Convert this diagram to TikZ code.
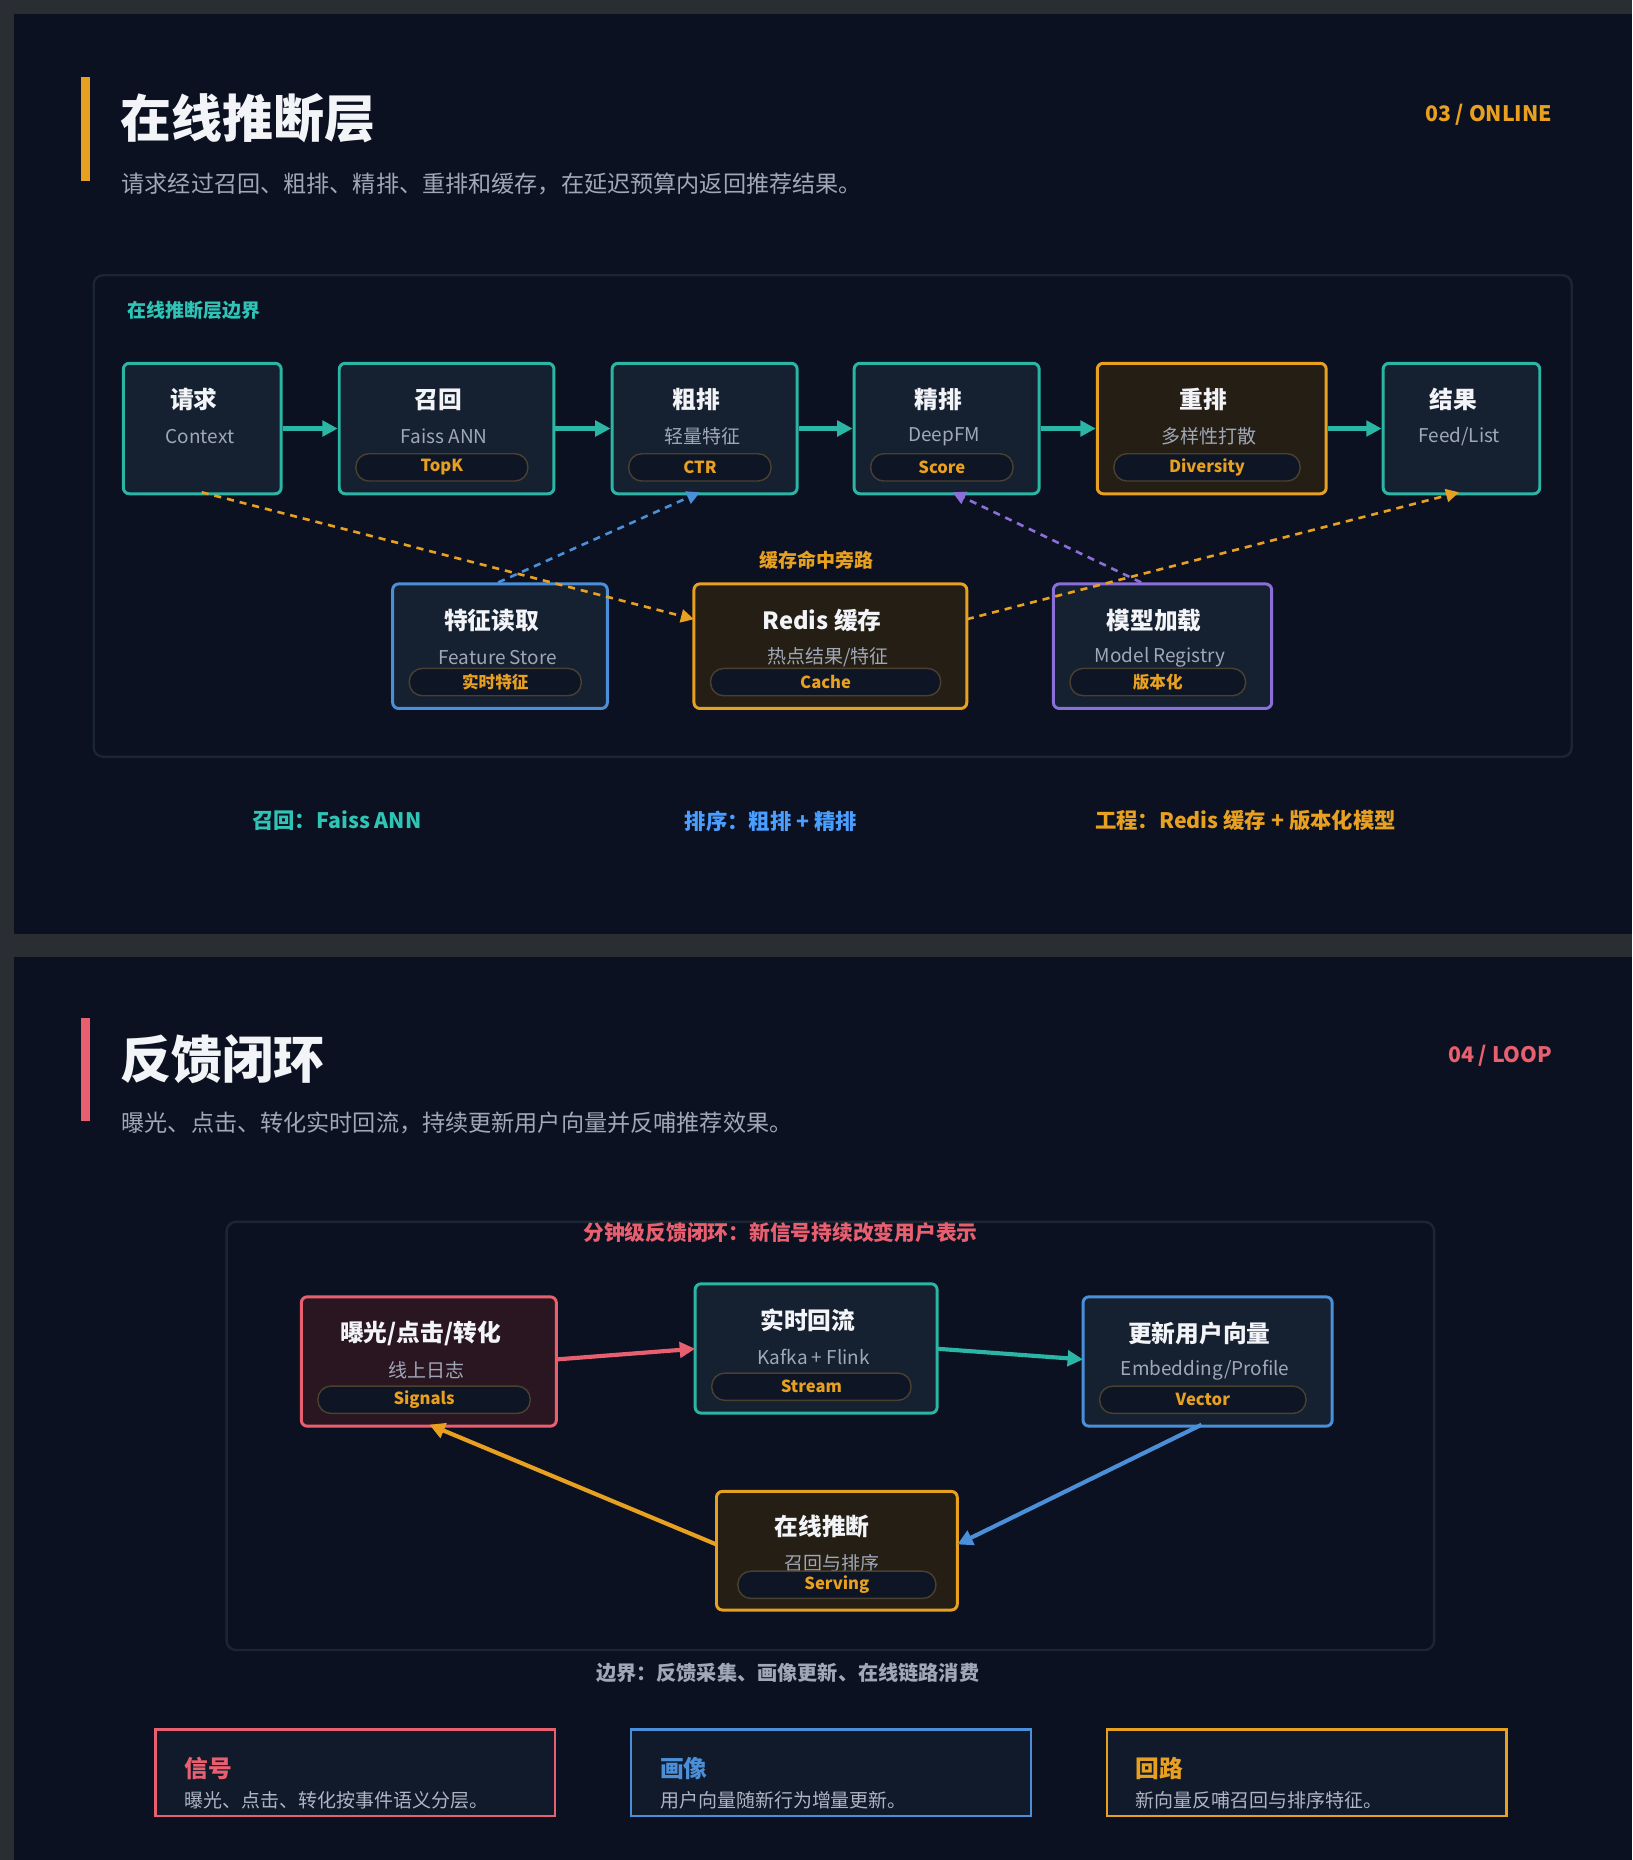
\documentclass[tikz,border=0pt]{standalone}
\usepackage{fontspec}
\setmainfont{Noto Sans CJK SC}
\usetikzlibrary{arrows.meta}
\definecolor{bgout}{HTML}{2A2D32}
\definecolor{bg}{HTML}{0B1120}
\definecolor{nfill}{HTML}{152030}
\definecolor{teal}{HTML}{2BB5A5}
\definecolor{tealtx}{HTML}{2EC4B6}
\definecolor{org}{HTML}{E8A020}
\definecolor{orgfill}{HTML}{241E14}
\definecolor{blu}{HTML}{4A8FD8}
\definecolor{blutx}{HTML}{4A9EFF}
\definecolor{pur}{HTML}{8A6FD8}
\definecolor{red}{HTML}{E86070}
\definecolor{redfill}{HTML}{2A1620}
\definecolor{gtx}{HTML}{A0A8B8}
\definecolor{wtx}{HTML}{F2F4F8}
\definecolor{bnd}{HTML}{1C2633}
\definecolor{pillb}{HTML}{4A4030}
\tikzset{
 x=1pt,y=-1pt,
 box/.style={draw,line width=2.5pt,rounded corners=5pt,inner sep=0pt},
 tealbox/.style={box,draw=teal,fill=nfill},
 orgbox/.style={box,draw=org,fill=orgfill},
 blubox/.style={box,draw=blu,fill=nfill},
 purbox/.style={box,draw=pur,fill=nfill},
 redbox/.style={box,draw=red,fill=redfill},
 ttl/.style={text=wtx,font=\fontsize{20}{22}\selectfont\bfseries},
 sub/.style={text=gtx,font=\fontsize{16}{17}\selectfont},
 pill/.style={draw=pillb,line width=1.2pt,rounded corners=11pt,fill=bg!70!nfill,text=org,font=\fontsize{14}{15}\selectfont\bfseries,inner sep=0pt,minimum height=23pt},
 arr/.style={line width=3.5pt,-{Triangle[length=13pt,width=13pt]}},
 darr/.style={line width=2.2pt,dash pattern=on 6pt off 5pt,-{Triangle[length=11pt,width=11pt]}},
}
\newcommand\bx[9]{%
 \node[#6,minimum width=#4pt,minimum height=#5pt,anchor=north] (#1) at (#2,#3) {};
 \node[ttl] (#1t) at (#2-7,#3+32) {#7};
 \node[sub] (#1s) at (#2-2,#3+63) {#8};
 \node[pill,minimum width=#4pt-36pt] (#1p) at (#2-4,#3+#5-21) {#9};
}
\newcommand\bxn[8]{%
 \node[#6,minimum width=#4pt,minimum height=#5pt,anchor=north] (#1) at (#2,#3) {};
 \node[ttl] (#1t) at (#2-7,#3+32) {#7};
 \node[sub] (#1s) at (#2-2,#3+63) {#8};
}
\begin{document}
\begin{tikzpicture}
\useasboundingbox (0,0) rectangle (1376,1568);
\fill[bgout] (0,0) rectangle (1376,1568);
\fill[bg] (12,12) rectangle (1376,787);
\fill[bg] (12,807) rectangle (1376,1568);
% ---------- panel 1
\fill[org] (68,65) rectangle (76,153);
\node[anchor=west,text=wtx,font=\fontsize{43}{46}\selectfont\bfseries] (t1) at (98,100) {在线推断层};
\node[anchor=west,text=gtx,font=\fontsize{19.5}{21}\selectfont] (s1) at (99,155) {请求经过召回、粗排、精排、重排和缓存，在延迟预算内返回推荐结果。};
\node[anchor=east,text=org,font=\fontsize{18}{20}\selectfont\bfseries] (n1) at (1312,97) {03 / ONLINE};
\node[draw=bnd,line width=2pt,rounded corners=8pt,minimum width=1246pt,minimum height=406pt,anchor=north west] (bd1) at (78,231) {};
\node[anchor=west,text=tealtx,font=\fontsize{16}{18}\selectfont\bfseries] (bl1) at (104,262) {在线推断层边界};
\bxn{qq}{170.5}{305}{133}{110}{tealbox}{请求}{Context}
\bx{zh}{376.5}{305}{181}{110}{tealbox}{召回}{Faiss ANN}{TopK}
\bx{cp}{594}{305}{156}{110}{tealbox}{粗排}{轻量特征}{CTR}
\bx{jp}{798}{305}{156}{110}{tealbox}{精排}{DeepFM}{Score}
\bx{cpp}{1021.5}{305}{193}{110}{orgbox}{重排}{多样性打散}{Diversity}
\bxn{jg}{1232}{305}{132}{110}{tealbox}{结果}{Feed/List}
\foreach \a/\b in {qq/zh,zh/cp,cp/jp,jp/cpp,cpp/jg}
  \draw[arr,teal] (\a.east) -- (\b.west);
\bx{tz}{421.5}{491}{181}{105}{blubox}{特征读取}{Feature Store}{实时特征}
\bx{rd}{700}{491}{230}{105}{orgbox}{Redis 缓存}{热点结果/特征}{Cache}
\bx{mx}{980}{491}{184}{105}{purbox}{模型加载}{Model Registry}{版本化}
\node[text=org,font=\fontsize{16}{18}\selectfont\bfseries] (hit) at (688,472) {缓存命中旁路};
\coordinate (qqb) at (170,415);
\coordinate (cpb) at (590,415);
\coordinate (jpb) at (803,415);
\coordinate (jgb) at (1230,415);
\coordinate (tzt) at (420,491);
\coordinate (mxt) at (962,491);
\coordinate (rdl) at (585,522);
\coordinate (rdr) at (815,522);
\draw[darr,org] (qqb) -- (rdl);
\draw[darr,blu] (tzt) -- (cpb);
\draw[darr,pur] (mxt) -- (jpb);
\draw[darr,org] (rdr) -- (jgb);
\node[text=tealtx,font=\fontsize{18}{20}\selectfont\bfseries] (l1) at (284,692) {召回：Faiss ANN};
\node[text=blutx,font=\fontsize{18}{20}\selectfont\bfseries] (l2) at (650,692) {排序：粗排 + 精排};
\node[text=org,font=\fontsize{18}{20}\selectfont\bfseries] (l3) at (1050,692) {工程：Redis 缓存 + 版本化模型};
% ---------- panel 2
\fill[red] (68,858) rectangle (76,945);
\node[anchor=west,text=wtx,font=\fontsize{43}{46}\selectfont\bfseries] (t2) at (98,893) {反馈闭环};
\node[anchor=west,text=gtx,font=\fontsize{19.5}{21}\selectfont] (s2) at (99,947) {曝光、点击、转化实时回流，持续更新用户向量并反哺推荐效果。};
\node[anchor=east,text=red,font=\fontsize{18}{20}\selectfont\bfseries] (n2) at (1312,890) {04 / LOOP};
\node[draw=bnd,line width=2pt,rounded corners=8pt,minimum width=1018pt,minimum height=361pt,anchor=north west] (bd2) at (190,1029) {};
\node[text=red,font=\fontsize{17.5}{19}\selectfont\bfseries] (bl2) at (658,1039) {分钟级反馈闭环：新信号持续改变用户表示};
\bx{sg}{361.5}{1092}{215}{109}{redbox}{曝光/点击/转化}{线上日志}{Signals}
\bx{ss}{688}{1081}{204}{109}{tealbox}{实时回流}{Kafka + Flink}{Stream}
\bx{up}{1018}{1092}{210}{109}{blubox}{更新用户向量}{Embedding/Profile}{Vector}
\node[orgbox,minimum width=203pt,minimum height=100pt,anchor=north] (sv) at (705.5,1256) {};
\node[ttl] (svt) at (693,1287) {在线推断};
\node[sub] (svs) at (701,1318) {召回与排序};
\node[pill,minimum width=167pt] (svp) at (705.5,1336) {Serving};
\coordinate (sgr) at (469,1146);
\coordinate (ssl) at (586,1137);
\coordinate (ssr) at (790,1137);
\coordinate (upl) at (913,1146);
\coordinate (upb) at (1013,1201);
\coordinate (svr) at (807,1302);
\coordinate (svl) at (604,1302);
\coordinate (sgb) at (362,1201);
\draw[arr,red] (sgr) -- (ssl);
\draw[arr,teal] (ssr) -- (upl);
\draw[arr,blu] (upb) -- (svr);
\draw[arr,org] (svl) -- (sgb);
\node[text=gtx,font=\fontsize{17}{19}\selectfont\bfseries] (bnd2) at (664,1410) {边界：反馈采集、画像更新、在线链路消费};
\foreach \nm/\cx/\col/\ti/\de in {c1/299.5/red/信号/曝光、点击、转化按事件语义分层。,c2/700.5/blu/画像/用户向量随新行为增量更新。,c3/1101.5/org/回路/新向量反哺召回与排序特征。}{
  \node[draw=\col,line width=2pt,fill=nfill!60!bg,minimum width=337pt,minimum height=73pt,anchor=north] (\nm) at (\cx,1457) {};
  \node[anchor=west,text=\col,font=\fontsize{20}{22}\selectfont\bfseries] (\nm t) at ([xshift=22pt,yshift=3.5pt]\nm.west) {\ti};
  \node[anchor=west,text=gtx!85!white,font=\fontsize{16}{18}\selectfont] (\nm d) at ([xshift=22pt,yshift=-23.5pt]\nm.west) {\de};
}
\end{tikzpicture}
\end{document}
